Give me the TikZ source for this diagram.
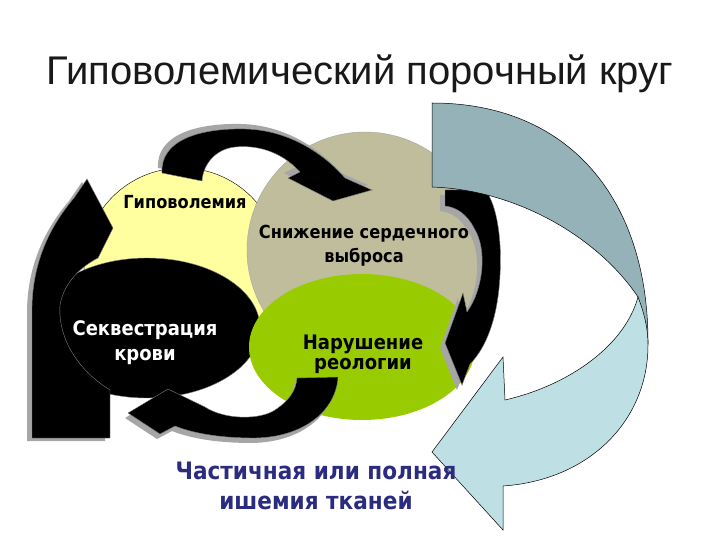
\documentclass[tikz,border=0pt]{standalone}
\usepackage{fontspec}
\setmainfont{Liberation Sans}
\newfontfamily\lblfont[FakeStretch=0.9]{DejaVu Sans}
\usetikzlibrary{shapes.geometric}
\definecolor{cyel}{RGB}{255,255,160}
\definecolor{cbeige}{RGB}{192,189,156}
\definecolor{cgreen}{RGB}{153,204,0}
\definecolor{cbluedark}{RGB}{148,178,184}
\definecolor{cbluelight}{RGB}{190,223,228}
\definecolor{cshadow}{RGB}{166,166,166}
\definecolor{cnavy}{RGB}{43,43,128}
\tikzset{
  blob/.style={ellipse, inner sep=0pt},
  lbl/.style={font=\lblfont\bfseries, align=center, inner sep=0pt},
  blackarrow/.style={fill=black, draw=black!50, line width=0.4pt},
  shadowarrow/.style={fill=cshadow, draw=none},
  bluearrow/.style={draw=black, line width=0.5pt, line join=miter}
}
\def\arrowA{(162,173) .. controls (160,140) and (200,128) .. (245,129) .. controls (290,130) and (325,155) .. (345,178) -- (372,190) -- (333,201) -- (288,178) -- (300,172) .. controls (280,150) and (255,145) .. (235,147) .. controls (215,149) and (203,165) .. (202,181) -- cycle}
\def\arrowB{(445,190) -- (485,190) .. controls (498,205) and (502,245) .. (500,275) .. controls (498,318) and (486,348) .. (470,364) -- (462,385) -- (445,343) -- (463,293) -- (467,312) .. controls (483,290) and (488,250) .. (474,228) .. controls (467,214) and (456,207) .. (445,206) -- cycle}
\def\arrowC{(297,378) -- (338,377) .. controls (336,410) and (305,437) .. (255,438) .. controls (215,438) and (190,432) .. (175,426) -- (160,434) -- (128,413) -- (168,389) -- (205,407) .. controls (225,420) and (260,420) .. (275,410) .. controls (290,400) and (296,390) .. (297,378) -- cycle}
\def\arrowD{(32,438) -- (110,438) -- (110,390) .. controls (70,365) and (58,330) .. (60,305) .. controls (64,282) and (82,266) .. (98,258) -- (113,228) -- (87,179) -- (74,198) .. controls (45,232) and (32,270) .. (32,310) -- cycle}
\def\bluedark{(432,103) .. controls (570,103) and (648,200) .. (648,342) -- (638,297) .. controls (600,240) and (520,190) .. (432,187) -- cycle}
\def\bluelight{(638,297) .. controls (645,315) and (648,330) .. (648,345) .. controls (648,420) and (590,480) .. (503,486) -- (503,530) -- (432,452) -- (503,357) -- (505,400) .. controls (570,385) and (625,345) .. (638,297) -- cycle}
\begin{document}
\begin{tikzpicture}[x=1pt,y=-1pt]
\useasboundingbox[fill=white] (0,0) rectangle (720,540);
% title
\node[anchor=base, inner sep=0pt, text=black!90, font=\fontsize{40}{46}\selectfont] (title) at (360,85) {Гиповолемический порочный круг};
% circles
\node[blob, fill=cyel, draw=black, line width=0.4pt, minimum width=196pt, minimum height=196pt] (hypo) at (182,266) {};
\node[blob, fill=cbeige, draw=black!35, line width=0.4pt, minimum width=236pt, minimum height=236pt] (cardiac) at (365,250) {};
\node[blob, fill=black, draw=black!50, line width=0.4pt, minimum width=226pt, minimum height=140pt] (seq) at (147,328) {};
\node[blob, fill=cgreen, minimum width=226pt, minimum height=146pt] (rheo) at (362,347) {};
% labels
\node[lbl, font=\fontsize{18}{24}\lblfont\bfseries] (thypo) at (185,202) {Гиповолемия};
\node[lbl, font=\fontsize{18}{24}\lblfont\bfseries] (tcard) at (364,246) {Снижение сердечного\\выброса};
\node[lbl, text=white, font=\fontsize{20}{25}\lblfont\bfseries] (tseq) at (145,343) {Секвестрация\\крови};
\node[lbl, font=\fontsize{20}{20}\lblfont\bfseries] (trheo) at (363,354) {Нарушение\\реологии};
% black arrows with shadows
\begin{scope}[shift={(-4,-5)}]\fill[shadowarrow] \arrowA;\end{scope}
\path[blackarrow] \arrowA;
\begin{scope}[shift={(-5,5)}]\fill[shadowarrow] \arrowB;\end{scope}
\path[blackarrow] \arrowB;
\begin{scope}[shift={(-3,5)}]\fill[shadowarrow] \arrowC;\end{scope}
\path[blackarrow] \arrowC;
\begin{scope}[shift={(-5,3)}]\fill[shadowarrow] \arrowD;\end{scope}
\path[blackarrow] \arrowD;
% big blue arrow
\path[bluearrow, fill=cbluedark] \bluedark;
\path[bluearrow, fill=cbluelight] \bluelight;
% bottom text
\node[lbl, text=cnavy, font=\fontsize{24}{30}\lblfont\bfseries] (tisch) at (316,486) {Частичная или полная\\ишемия тканей};
\end{tikzpicture}
\end{document}
